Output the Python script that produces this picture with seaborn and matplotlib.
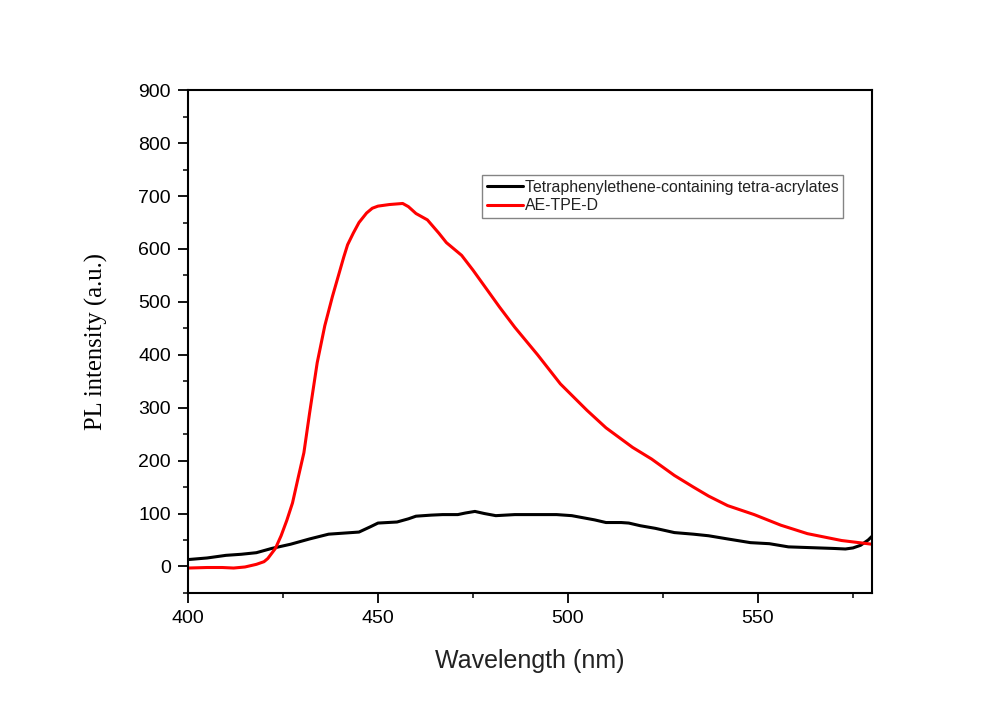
import numpy as np
import pandas as pd
import matplotlib
matplotlib.use("Agg")
import matplotlib.pyplot as plt
import seaborn as sns
from matplotlib.ticker import MultipleLocator

# Data
tpe_x = [400, 405, 410, 414, 418, 422, 427, 432, 437, 441, 445, 448, 450, 455, 458, 460, 464,
         467, 471, 473, 475.5, 478, 481, 486, 491, 497, 501, 504, 507, 510, 514, 516, 519, 523,
         528, 533, 537, 542, 548, 553, 558, 562, 566, 570, 573, 575, 577, 579, 580]
tpe_y = [13, 16, 21, 23, 26, 34, 42, 52, 61, 63, 65, 75, 82, 84, 90, 95, 97,
         98, 98, 101, 104, 100, 96, 98, 98, 98, 96, 92, 88, 83, 83, 82, 77, 72,
         64, 61, 58, 52, 45, 43, 37, 36, 35, 34, 33, 35, 40, 50, 57]

ae_x = [400, 405, 409, 412, 415, 418, 420, 421, 423, 424.5, 426, 427.5, 429, 430.5, 432,
        434, 436, 438, 440, 441, 442, 443.5, 445, 447, 448.5, 450, 453, 456.5, 458, 460, 463,
        466, 468, 472, 475, 479, 482, 486, 492, 498, 505, 510, 517, 522, 528, 533, 537, 542,
        549, 556, 563, 572, 580]
ae_y = [-3, -2, -2, -3, -1, 4, 9, 15, 34, 58, 87, 120, 168, 215, 290,
        385, 455, 510, 560, 585, 608, 630, 650, 668, 677, 681, 684, 686, 680, 667, 655,
        630, 612, 588, 560, 520, 490, 452, 400, 345, 295, 262, 225, 203, 172, 150, 133, 115,
        98, 78, 62, 49, 42]

labels = ["Tetraphenylethene-containing tetra-acrylates", "AE-TPE-D"]
colors = ["#000000", "#ff0000"]

sns.set_style("ticks")
plt.rcParams['font.family'] = ['Liberation Sans', 'DejaVu Sans']

fig = plt.figure(figsize=(10, 7.05), dpi=100)
ax = fig.add_axes([0.188, 0.159, 0.684, 0.713])

df1 = pd.DataFrame({"x": tpe_x, "y": tpe_y})
df2 = pd.DataFrame({"x": ae_x, "y": ae_y})
sns.lineplot(data=df1, x="x", y="y", ax=ax, color=colors[0], lw=2.2, label=labels[0])
sns.lineplot(data=df2, x="x", y="y", ax=ax, color=colors[1], lw=2.2, label=labels[1])

ax.set_xlim(400, 580)
ax.set_ylim(-50, 900)
ax.xaxis.set_major_locator(MultipleLocator(50))
ax.xaxis.set_minor_locator(MultipleLocator(25))
ax.yaxis.set_major_locator(MultipleLocator(100))
ax.yaxis.set_minor_locator(MultipleLocator(50))
ax.tick_params(which='major', direction='out', length=7.2, width=1.3, labelsize=14,
               colors='black', pad=5)
ax.tick_params(which='minor', direction='out', length=3.6, width=1.3)
for s in ax.spines.values():
    s.set_linewidth(1.5)
    s.set_color('black')

ax.set_xlabel("Wavelength (nm)", fontsize=18, labelpad=16, color='#222222')
ax.set_ylabel("PL intensity (a.u.)", fontsize=17.7, family=['Liberation Serif'],
              labelpad=22, color='black')

leg = ax.legend(loc='upper left', bbox_to_anchor=(0.430, 0.831), fontsize=11.4,
                frameon=True, fancybox=False, handlelength=2.3, handletextpad=0.1,
                borderpad=0.3, labelspacing=0.2, borderaxespad=0)
leg.get_frame().set_edgecolor('#666666')
leg.get_frame().set_linewidth(1.0)
for t in leg.get_texts():
    t.set_color('#222222')

fig.savefig("out.png", dpi=100, facecolor='white')
